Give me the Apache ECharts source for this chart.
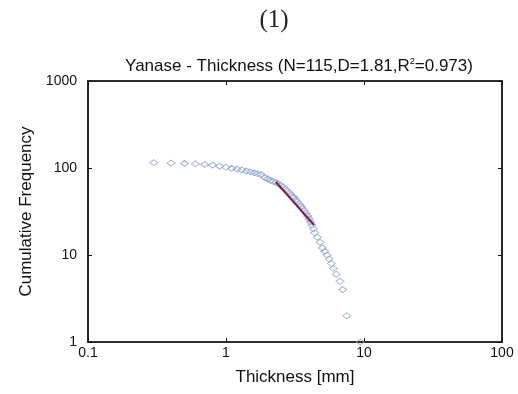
<!DOCTYPE html>
<html><head><meta charset="utf-8">
<script src="https://cdn.jsdelivr.net/npm/echarts@6/dist/echarts.min.js"></script>
<style>html,body{margin:0;padding:0;background:#fff}#c{width:518px;height:394px}</style>
</head><body><div id="c"></div>
<script>
// Thickness (mm) of each distinct value and its cumulative frequency (count >= value)
const thickness = [0.3,0.4,0.5,0.6,0.7,0.8,0.9,1.0,1.1,1.2,1.3,1.4,1.5,1.6,1.7,1.8,1.9,2.0,2.1,2.2,2.3,2.4,2.5,2.6,2.7,2.8,2.9,3.0,3.1,3.2,3.3,3.4,3.5,3.6,3.7,3.8,3.9,4.0,4.1,4.2,4.3,4.4,4.6,4.8,5.0,5.2,5.4,5.6,5.8,6.0,6.3,6.7,7.0,7.5,9.4];
const cumFreq   = [115,114,113,112,110,108,105,102,99,97,95,92,90,88,86,84,78,75,72,70,68,66,63,60,57,54,51,48,46,43,41,38,36,34,32,30,28,26,24,22,20,18,16,14,12,11,10,9,8,7,6,5,4,2,1];
// Fitted power-law segment endpoints
const fitX = [2.3, 4.35];
const fitY = [69, 22];
const xTicks = [0.1, 1, 10, 100];
const yTicks = [1, 10, 100, 1000];

const chart = echarts.init(document.getElementById('c'));
const pts = thickness.map((t, i) => [t, cumFreq[i]]);
const fit = fitX.map((x, i) => [x, fitY[i]]);
const font = 'Liberation Sans, Arial, sans-serif';
const axisCommon = {
  type: 'log', logBase: 10,
  axisLine: { show: true, lineStyle: { color: '#111', width: 1.5 } },
  axisTick: { show: true, inside: true, length: 4, lineStyle: { color: '#111' } },
  minorTick: { show: false },
  splitLine: { show: false }
};
chart.setOption({
  backgroundColor: '#fff',
  animation: false,
  title: [
    { text: '(1)', left: 269, textAlign: 'center', top: 3, textStyle: { fontFamily: 'Liberation Serif, Times New Roman, serif', fontSize: 25, fontWeight: 'normal', color: '#222' } },
    { text: '{a|Yanase - Thickness (N=115,D=1.81,R}{s|2}{a|=0.973)}', left: 294, textAlign: 'center', top: 52,
      textStyle: { fontWeight: 'normal', rich: { a: { fontFamily: font, fontSize: 17, fontWeight: 'normal', color: '#111' }, s: { fontFamily: font, fontSize: 9, fontWeight: 'normal', color: '#111', verticalAlign: 'top', padding: [0,0,9,0] } } } }
  ],
  grid: { left: 88, right: 16, top: 81, bottom: 52, show: true, borderColor: '#111', borderWidth: 1.2 },
  xAxis: [
    Object.assign({}, axisCommon, {
      min: 0.1, max: 100, position: 'bottom',
      name: 'Thickness [mm]', nameLocation: 'middle', nameGap: 27,
      nameTextStyle: { fontFamily: font, fontSize: 17, color: '#111' },
      axisLabel: { fontFamily: font, fontSize: 14, color: '#111', margin: 4,
        formatter: v => { const m = xTicks.find(t => Math.abs(t - v) / t < 1e-6); return m !== undefined ? String(m) : ''; } }
    }),
    Object.assign({}, axisCommon, { min: 0.1, max: 100, position: 'top', axisLabel: { show: false } })
  ],
  yAxis: [
    Object.assign({}, axisCommon, {
      min: 1, max: 1000, position: 'left',
      name: 'Cumulative Frequency', nameLocation: 'middle', nameGap: 47,
      nameTextStyle: { fontFamily: font, fontSize: 17, color: '#111' },
      axisLabel: { fontFamily: font, fontSize: 14, color: '#111', margin: 11,
        formatter: v => { const m = yTicks.find(t => Math.abs(t - v) / t < 1e-6); return m !== undefined ? String(m) : ''; } }
    }),
    Object.assign({}, axisCommon, { min: 1, max: 1000, position: 'right', axisLabel: { show: false } })
  ],
  series: [
    { type: 'scatter', data: pts, symbol: 'diamond', symbolSize: [8, 6],
      itemStyle: { color: 'rgba(255,255,255,0)', borderColor: '#8fa0c8', borderWidth: 1 } },
    { type: 'line', data: fit, symbol: 'none', lineStyle: { color: '#7a1c4c', width: 2 } }
  ]
});
</script></body></html>
